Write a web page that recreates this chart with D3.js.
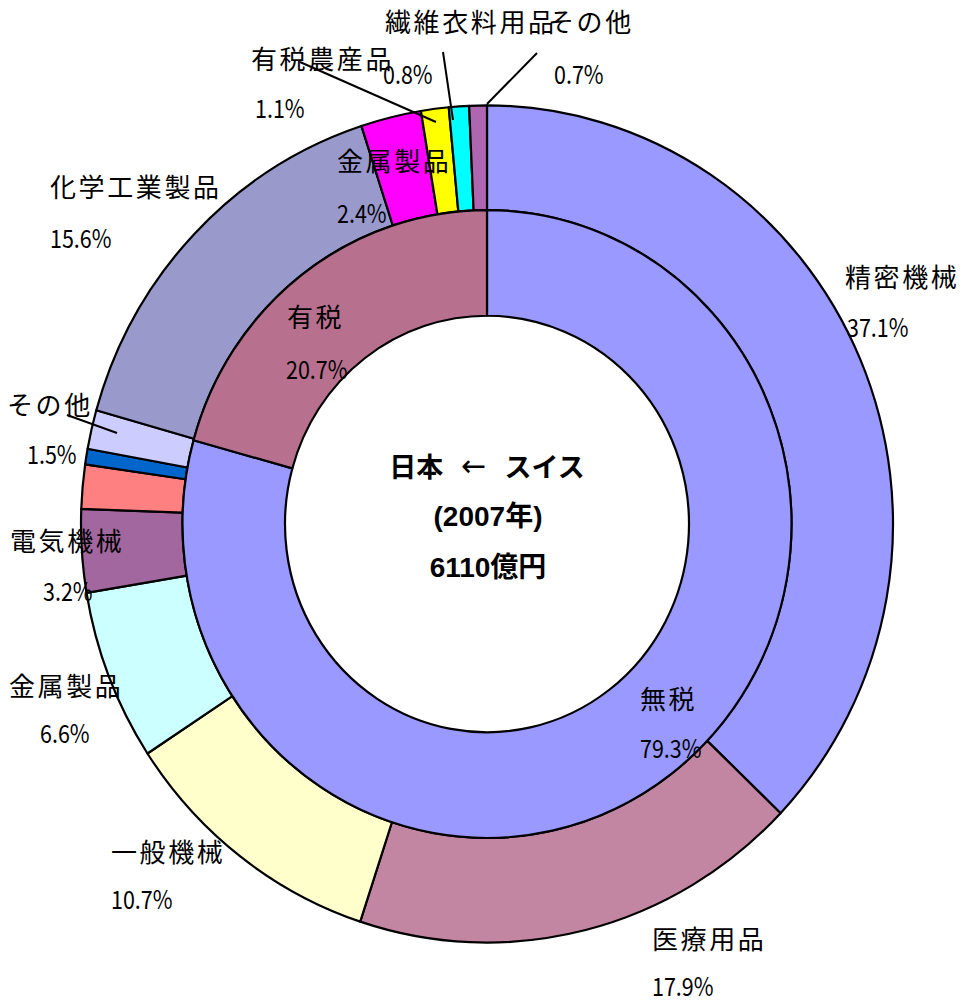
<!DOCTYPE html>
<html>
<head>
<meta charset="utf-8">
<script src="https://cdn.jsdelivr.net/npm/d3@7"></script>
<style>
  html, body { margin: 0; padding: 0; background: #fff; }
  svg text { font-family: "Noto Sans CJK JP", "Noto Sans", sans-serif; fill: #000; }
</style>
</head>
<body>
<svg id="chart" width="963" height="1000"></svg>
<script>
// ---- data ----
const outerCategories = ["精密機械", "医療用品", "一般機械", "金属製品", "電気機械", "", "", "その他",
                         "化学工業製品", "金属製品", "有税農産品", "繊維衣料用品", "その他"];
const outerValues = [37.1, 17.9, 10.7, 6.6, 3.2, 1.7, 0.6, 1.5, 15.6, 2.4, 1.1, 0.8, 0.7];
const outerPctLabels = ["37.1%", "17.9%", "10.7%", "6.6%", "3.2%", "", "", "1.5%",
                        "15.6%", "2.4%", "1.1%", "0.8%", "0.7%"];
const innerCategories = ["無税", "有税"];
const innerValues = [79.3, 20.7];
const innerPctLabels = ["79.3%", "20.7%"];
const titleFrom = "日本", titleArrow = "←", titleTo = "スイス";
const centerTitle = ["(2007年)", "6110億円"];

// ---- styles / layout ----
const outerColors = ["#9999FF", "#C386A2", "#FFFFCC", "#CCFFFF", "#A2679F", "#FF8080", "#0066CC", "#CCCCFF",
                     "#9999CC", "#FF00FF", "#FFFF00", "#00FFFF", "#AE66B0"];
const innerColors = ["#9999FF", "#B8708F"];
const cx = 487, cy = 524, yStretch = 1.031;
const rOuter = 406, rMid = 304.5, rHole = 202;

// label anchor positions (left x, vertical centre of name, pct left x, vertical centre of pct)
const outerLabelPos = [
  [845, 275, 847, 326], [652, 937, 652, 985], [111, 850, 111, 898], [9, 684, 40, 732],
  [10, 539, 43, 590], null, null, [7, 403, 27, 453],
  [50, 185, 50, 237], [337, 159, 337, 212], [251, 57, 255, 107], [385, 20, 383, 73], [548, 20, 554, 73]
];
const innerLabelPos = [[640, 697, 640, 747], [287, 315, 286, 368]];
const leaderLines = [
  [[67, 415], [117, 433]],
  [[300, 62], [436, 122]],
  [[443, 52], [453, 120]],
  [[537, 53], [487, 104]]
];

const svg = d3.select("#chart");
const pie = d3.pie().sort(null).value(d => d);

const g = svg.append("g").attr("transform", `translate(${cx},${cy}) scale(1,${yStretch})`);

const outerArc = d3.arc().innerRadius(rMid).outerRadius(rOuter);
const innerArc = d3.arc().innerRadius(rHole).outerRadius(rMid);

g.selectAll("path.outer")
  .data(pie(outerValues))
  .join("path")
  .attr("class", "outer")
  .attr("d", outerArc)
  .attr("fill", (d, i) => outerColors[i])
  .attr("stroke", "#000")
  .attr("stroke-width", 2.2)
  .attr("stroke-linejoin", "round")
  .attr("vector-effect", "non-scaling-stroke");

g.selectAll("path.inner")
  .data(pie(innerValues))
  .join("path")
  .attr("class", "inner")
  .attr("d", innerArc)
  .attr("fill", (d, i) => innerColors[i])
  .attr("stroke", "#000")
  .attr("stroke-width", 2.2)
  .attr("stroke-linejoin", "round")
  .attr("vector-effect", "non-scaling-stroke");

// leader lines
svg.selectAll("line.leader")
  .data(leaderLines)
  .join("line")
  .attr("x1", d => d[0][0]).attr("y1", d => d[0][1])
  .attr("x2", d => d[1][0]).attr("y2", d => d[1][1])
  .attr("stroke", "#000").attr("stroke-width", 2);

// labels
function drawLabels(names, pcts, pos) {
  names.forEach((name, i) => {
    const p = pos[i];
    if (!p || !name) return;
    svg.append("text")
      .attr("x", p[0]).attr("y", p[1])
      .attr("dominant-baseline", "central")
      .attr("font-size", 26)
      .attr("letter-spacing", 2.6)
      .text(name);
    svg.append("text")
      .attr("transform", `translate(${p[2]},${p[3]}) scale(0.86,1)`)
      .attr("dominant-baseline", "central")
      .attr("font-size", 25)
      .attr("font-family", "'Liberation Sans', sans-serif")
      .text(pcts[i]);
  });
}
drawLabels(outerCategories, outerPctLabels, outerLabelPos);
drawLabels(innerCategories, innerPctLabels, innerLabelPos);

// centre title
const t1 = svg.append("text")
  .attr("x", cx).attr("y", 465)
  .attr("text-anchor", "middle")
  .attr("dominant-baseline", "central")
  .attr("font-size", 27)
  .attr("font-weight", "bold");
t1.append("tspan").text(titleFrom);
t1.append("tspan").attr("dx", 18).attr("font-weight", "normal").attr("font-size", 30)
  .style("font-family", "'DejaVu Sans', sans-serif").text(titleArrow);
t1.append("tspan").attr("dx", 18).text(titleTo);

svg.selectAll("text.center")
  .data(centerTitle)
  .join("text")
  .attr("class", "center")
  .attr("x", cx + 1)
  .attr("y", (d, i) => 516 + i * 51)
  .attr("text-anchor", "middle")
  .attr("dominant-baseline", "central")
  .attr("font-size", 28)
  .attr("font-weight", "bold")
  .style("font-family", "'Liberation Sans', 'Noto Sans CJK JP', sans-serif")
  .text(d => d);
</script>
</body>
</html>
